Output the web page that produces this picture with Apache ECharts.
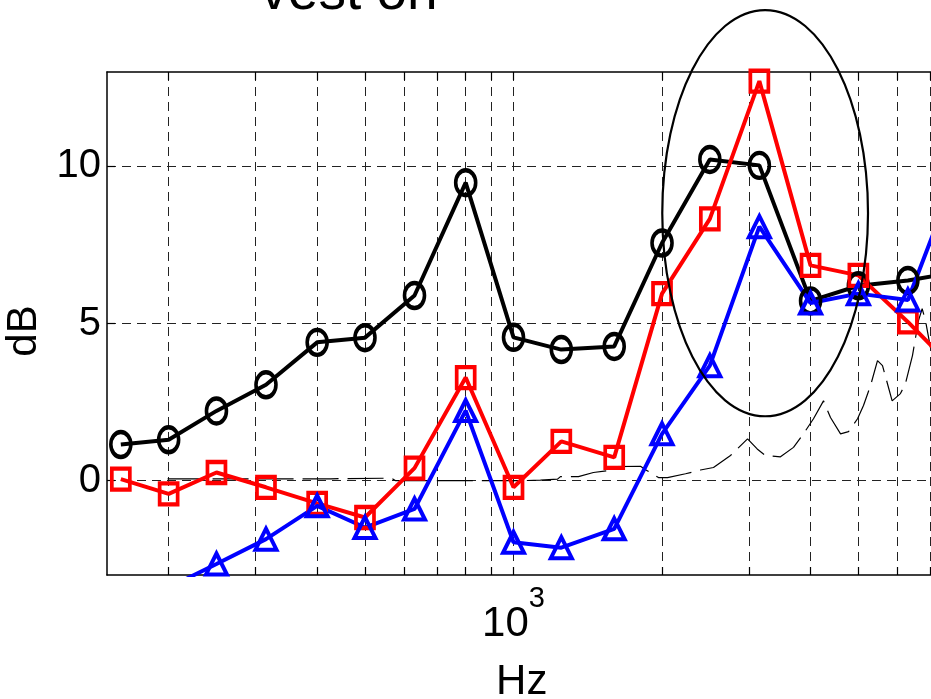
<!DOCTYPE html>
<html><head><meta charset="utf-8">
<script src="https://cdn.jsdelivr.net/npm/echarts@6/dist/echarts.min.js"></script>
<style>html,body{margin:0;padding:0;background:#fff}#c{width:931px;height:699px}</style>
</head><body><div id="c"></div>
<script>
// third-octave band centre frequencies (Hz)
const bandsHz = [160, 200, 250, 315, 400, 500, 630, 800, 1000, 1250, 1600, 2000, 2500, 3150, 4000, 5000, 6300, 8000];
const blackDb = [1.15, 1.30, 2.22, 3.05, 4.40, 4.55, 5.89, 9.48, 4.56, 4.17, 4.27, 7.56, 10.22, 10.03, 5.72, 6.20, 6.37, 6.65];
const redDb   = [0.05, -0.42, 0.26, -0.21, -0.72, -1.17, 0.40, 3.28, -0.21, 1.25, 0.74, 5.95, 8.33, 12.71, 6.85, 6.53, 5.05, 3.40];
const blueDb  = [-4.20, -3.40, -2.65, -1.86, -0.80, -1.49, -0.90, 2.23, -1.96, -2.13, -1.53, 1.49, 3.66, 8.08, 5.65, 5.95, 5.75, 10.00];

// thin reference spectrum
const thinHz = [199, 293, 426, 566, 577, 774, 1033, 1134, 1228, 1245, 1354, 1452, 1550, 1609, 1809, 1851, 1967, 2052, 2232, 2393,
                2543, 2753, 2981, 3118, 3241, 3476, 3694, 3870, 4055, 4249, 4390, 4601, 4775, 4981, 5121, 5291, 5467, 5596,
                5854, 6085, 6229, 6436, 6619, 6734, 6839, 7000];
const thinDb = [0.06, 0.06, 0.06, 0.08, 0.00, 0.00, 0.00, 0.02, 0.05, 0.13, 0.13, 0.26, 0.32, 0.45, 0.46, 0.35, 0.10, 0.10, 0.22, 0.34,
                0.42, 0.80, 1.33, 1.01, 0.80, 0.76, 1.06, 1.49, 1.97, 2.54, 2.01, 1.49, 1.56, 1.97, 2.39, 3.02, 3.82, 3.66,
                2.54, 2.77, 3.09, 3.98, 5.09, 5.47, 5.09, 4.23];

// grid / tick frequencies and labels
const gridHz = [200, 300, 400, 500, 600, 700, 800, 900, 1000, 2000, 3000, 4000, 5000, 6000, 7000];
const xLabelHz = [1000];
const yTicks = [0, 5, 10];
const xRangeHz = [150, 7200];
const yRange = [-3, 13];

// highlight ellipse (centre in Hz / dB, half-axes in decades / dB)
const ellipseCenterHz = 3236;
const ellipseCenterDb = 8.51;
const ellipseHalfDecades = 0.2085;
const ellipseHalfDb = 6.46;

const FONT = '"Liberation Sans", Arial, Helvetica, sans-serif';
const lg = v => Math.log10(v);
const pts = (xs, ys) => xs.map((f, i) => [lg(f), ys[i]]);

const chart = echarts.init(document.getElementById('c'), null, {renderer: 'canvas'});
const gridLogs = gridHz.map(lg);

const markerSeries = (name, ys, color, symbol, size) => ({
  name, type: 'line', data: pts(bandsHz, ys),
  symbol, symbolSize: size, showAllSymbol: true, clip: true,
  lineStyle: {color, width: 4},
  itemStyle: {color: 'rgba(0,0,0,0)', borderColor: color, borderWidth: 4},
  emphasis: {disabled: true}, animation: false
});

chart.setOption({
  animation: false,
  backgroundColor: '#fff',
  grid: {left: 107, right: -5.5, top: 72, bottom: 124, containLabel: false, outerBoundsMode: 'none'},
  graphic: [{
    type: 'text', x: 349, y: 13 - 0.3465 * 55,
    style: {text: 'vest on', font: '55px ' + FONT, fill: '#000', textAlign: 'center', textVerticalAlign: 'middle'}
  }],
  xAxis: [{
    type: 'value', min: lg(xRangeHz[0]), max: lg(xRangeHz[1]), position: 'bottom',
    name: 'Hz', nameLocation: 'middle', nameGap: 86,
    nameTextStyle: {fontFamily: FONT, fontSize: 42, color: '#000'},
    axisLine: {show: true, onZero: false, lineStyle: {color: '#000', width: 1.5}},
    axisTick: {show: true, inside: true, length: 8, customValues: gridLogs, lineStyle: {color: '#000', width: 1.2}},
    axisLabel: {
      customValues: xLabelHz.map(lg), margin: 9, color: '#000',
      formatter: v => '{a|' + 10 + '}{b|' + Math.round(v) + '}',
      rich: {
        a: {fontFamily: FONT, fontSize: 42, color: '#000', lineHeight: 80},
        b: {fontFamily: FONT, fontSize: 29, color: '#000', lineHeight: 29, verticalAlign: 'top'}
      }
    },
    splitLine: {show: true, lineStyle: {color: '#222', width: 1, type: [9, 6]}}
  }, {
    type: 'value', min: lg(xRangeHz[0]), max: lg(xRangeHz[1]), position: 'top',
    axisLine: {show: true, onZero: false, lineStyle: {color: '#000', width: 1.5}},
    axisTick: {show: true, inside: true, length: 8, customValues: gridLogs, lineStyle: {color: '#000', width: 1.2}},
    axisLabel: {show: false}, splitLine: {show: false}
  }],
  yAxis: [{
    type: 'value', min: yRange[0], max: yRange[1], position: 'left',
    name: 'dB', nameLocation: 'middle', nameGap: 51,
    nameTextStyle: {fontFamily: FONT, fontSize: 42, color: '#000', padding: [0, 15, 0, 0]},
    axisLine: {show: true, onZero: false, lineStyle: {color: '#000', width: 1.5}},
    axisTick: {show: true, inside: true, length: 8, customValues: yTicks, lineStyle: {color: '#000', width: 1.2}},
    axisLabel: {customValues: yTicks, margin: 6, fontFamily: FONT, fontSize: 40, color: '#000'},
    splitLine: {show: true, lineStyle: {color: '#222', width: 1, type: [9, 6]}}
  }],
  series: [
    {
      name: 'reference', type: 'line', data: pts(thinHz, thinDb), showSymbol: false, clip: true,
      lineStyle: {color: '#000', width: 1.2, type: [36, 9]}, emphasis: {disabled: true}, z: 1
    },
    markerSeries('black', blackDb, '#000000', 'circle', [20, 25]),
    markerSeries('red', redDb, '#ff0000', 'rect', [18, 21]),
    markerSeries('blue', blueDb, '#0000ff', 'triangle', [21, 21]),
    {
      name: 'ellipse', type: 'custom', clip: false, z: 5,
      dimensions: ['x', 'y', 'rx', 'ry'], encode: {x: 0, y: 1},
      data: [[lg(ellipseCenterHz), ellipseCenterDb, ellipseHalfDecades, ellipseHalfDb]],
      renderItem: (params, api) => {
        const c = api.coord([api.value(0), api.value(1)]);
        const s = api.size([api.value(2), api.value(3)]);
        return {type: 'ellipse', shape: {cx: c[0], cy: c[1], rx: s[0], ry: s[1]},
                style: {fill: 'none', stroke: '#000', lineWidth: 2.2}};
      }
    }
  ]
});
</script></body></html>
